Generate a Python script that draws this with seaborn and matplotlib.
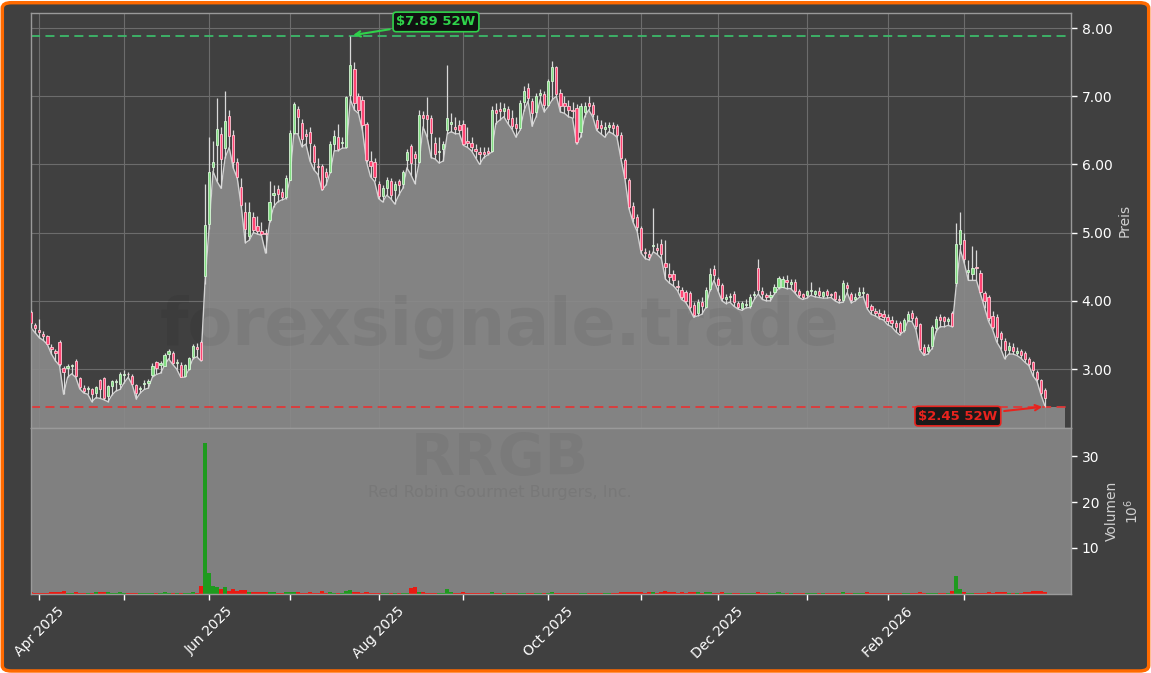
import numpy as np
import pandas as pd
import seaborn as sns
import matplotlib.pyplot as plt
import matplotlib.ticker as mticker
from matplotlib.patches import FancyBboxPatch

# trading days 2025-03-28 .. 2026-03-30 (NYSE holidays removed)
holidays = ['2025-04-18', '2025-05-26', '2025-06-19', '2025-07-04', '2025-09-01',
            '2025-11-27', '2025-12-25', '2026-01-01', '2026-01-19', '2026-02-16']
dates = pd.bdate_range('2025-03-28', '2026-03-30')
dates = dates[~dates.isin(pd.to_datetime(holidays))]

opens = [
    3.84, 3.64,
    3.57, 3.52, 3.48, 3.33, 3.27, 3.40, 3.01, 3.02, 3.05, 3.12, 2.87, 2.72, 2.70, 2.70, 2.65, 2.84, 2.87, 2.61, 2.75, 2.81, 2.78,
    2.91, 2.93, 2.90, 2.76, 2.70, 2.78, 2.80, 2.91, 3.10, 3.06, 3.04, 3.22, 3.24, 3.09, 3.06, 2.90, 3.00, 3.18, 3.32, 3.40, 4.37,
    5.13, 5.96, 6.29, 6.45, 6.24, 6.71, 6.43, 6.04, 5.67, 5.30, 4.95, 5.23, 5.10, 5.02, 5.00, 5.18, 5.55, 5.64, 5.59, 5.53,
    5.77, 6.46, 6.82, 6.61, 6.45, 6.48, 6.27, 5.97, 5.97, 5.89, 5.89, 6.30, 6.40, 6.32, 6.26, 7.02, 7.40, 7.00, 6.94, 6.59, 6.05, 6.04,
    5.71, 5.54, 5.65, 5.76, 5.62, 5.75, 5.71, 6.06, 6.27, 6.16, 6.04, 6.73, 6.72, 6.68, 6.32, 6.18, 6.23, 6.51, 6.60, 6.55, 6.58,
    6.60, 6.35, 6.32, 6.22, 6.18, 6.18, 6.20, 6.19, 6.80, 6.82, 6.78, 6.81, 6.68, 6.60, 6.53, 6.91, 7.12, 6.93, 6.77, 7.02, 7.04,
    6.87, 7.23, 7.43, 7.05, 6.90, 6.85, 6.80, 6.83, 6.48, 6.77, 6.90, 6.87, 6.65, 6.58, 6.52, 6.55, 6.58, 6.57, 6.43, 6.07, 5.77, 5.39, 5.23,
    5.07, 4.72, 4.68, 4.80, 4.78, 4.84, 4.55, 4.40, 4.40, 4.22, 4.16, 4.13, 4.11, 3.94, 3.82, 3.99, 3.91, 4.18, 4.46,
    4.32, 4.23, 4.03, 4.05, 4.10, 3.97, 3.90, 3.94, 3.93, 4.08, 4.48, 4.15, 4.08, 4.05, 4.13, 4.20, 4.21, 4.30, 4.25, 4.28, 4.14, 4.10,
    4.08, 4.14, 4.10, 4.15, 4.07, 4.14, 4.10, 4.13, 4.02, 4.01, 4.23, 4.10, 4.03, 4.08, 4.12, 4.10, 3.92, 3.85, 3.82, 3.80,
    3.76, 3.72, 3.68, 3.67, 3.57, 3.72, 3.82, 3.75, 3.66, 3.33, 3.26, 3.34, 3.60, 3.76, 3.76, 3.70, 3.82, 4.26, 4.84,
    4.89, 4.42, 4.40, 4.50, 4.41, 4.12, 4.06, 3.78, 3.77, 3.53, 3.41, 3.28, 3.33, 3.24, 3.26, 3.23, 3.14, 3.11, 2.96, 2.84, 2.69,
]
highs = [
    3.86, 3.68,
    3.73, 3.56, 3.50, 3.36, 3.30, 3.42, 3.05, 3.08, 3.08, 3.15, 2.88, 2.76, 2.75, 2.72, 2.75, 2.86, 2.88, 2.77, 2.84, 2.85, 2.95,
    2.99, 2.96, 2.92, 2.78, 2.75, 2.84, 2.86, 3.09, 3.12, 3.12, 3.24, 3.30, 3.27, 3.14, 3.10, 3.08, 3.18, 3.36, 3.38, 3.42, 5.72,
    6.40, 6.35, 6.97, 6.55, 7.07, 6.80, 6.50, 6.10, 5.80, 5.45, 5.45, 5.30, 5.25, 5.15, 5.05, 5.75, 5.70, 5.70, 5.65, 5.85,
    6.50, 6.92, 6.85, 6.66, 6.52, 6.55, 6.30, 6.10, 6.00, 5.95, 6.35, 6.50, 6.60, 6.40, 7.00, 7.89, 7.50, 7.05, 7.00, 6.62, 6.20, 6.10,
    5.75, 5.70, 5.82, 5.80, 5.75, 5.78, 5.92, 6.22, 6.30, 6.20, 6.80, 6.78, 6.99, 6.72, 6.40, 6.40, 6.35, 7.46, 6.75, 6.70, 6.65,
    6.65, 6.55, 6.40, 6.30, 6.25, 6.25, 6.25, 6.85, 6.90, 6.92, 6.90, 6.85, 6.80, 6.70, 6.95, 7.15, 7.20, 6.98, 7.05, 7.10, 7.08,
    7.25, 7.52, 7.45, 7.10, 7.00, 6.95, 6.92, 6.88, 6.90, 6.92, 7.00, 6.92, 6.72, 6.65, 6.62, 6.62, 6.62, 6.60, 6.48, 6.10, 5.80, 5.45, 5.28,
    5.10, 4.78, 4.75, 5.36, 4.85, 4.90, 4.89, 4.55, 4.45, 4.30, 4.20, 4.16, 4.14, 3.98, 4.02, 4.05, 4.20, 4.48, 4.52,
    4.35, 4.26, 4.10, 4.12, 4.14, 4.00, 4.00, 4.02, 4.10, 4.15, 4.61, 4.20, 4.12, 4.14, 4.25, 4.36, 4.36, 4.38, 4.32, 4.32, 4.18, 4.12,
    4.16, 4.28, 4.16, 4.20, 4.15, 4.18, 4.12, 4.15, 4.08, 4.30, 4.27, 4.13, 4.12, 4.20, 4.20, 4.12, 3.95, 3.90, 3.88, 3.86,
    3.80, 3.78, 3.72, 3.70, 3.75, 3.85, 3.86, 3.78, 3.68, 3.36, 3.36, 3.65, 3.78, 3.80, 3.78, 3.76, 3.85, 5.14, 5.30,
    5.00, 4.60, 4.80, 4.75, 4.45, 4.15, 4.08, 3.85, 3.80, 3.56, 3.45, 3.40, 3.38, 3.33, 3.30, 3.27, 3.18, 3.12, 2.98, 2.86, 2.72,
]
lows = [
    3.60, 3.53,
    3.46, 3.42, 3.36, 3.22, 3.12, 3.05, 2.63, 2.88, 2.93, 2.88, 2.71, 2.65, 2.63, 2.52, 2.58, 2.57, 2.55, 2.52, 2.62, 2.68, 2.70,
    2.80, 2.88, 2.77, 2.56, 2.65, 2.70, 2.72, 2.88, 2.92, 2.94, 3.05, 3.15, 3.07, 3.00, 2.88, 2.88, 2.99, 3.15, 3.18, 3.12, 4.25,
    5.05, 5.90, 5.75, 5.65, 6.10, 6.25, 5.95, 5.80, 5.38, 4.85, 4.89, 5.00, 4.98, 4.96, 4.70, 5.15, 5.38, 5.45, 5.48, 5.50,
    5.77, 6.45, 6.45, 6.26, 6.30, 6.05, 5.92, 5.85, 5.62, 5.70, 5.88, 6.20, 6.20, 6.24, 6.24, 6.95, 6.80, 6.75, 6.50, 6.04, 5.82, 5.75,
    5.50, 5.45, 5.55, 5.50, 5.42, 5.55, 5.65, 5.95, 5.85, 5.72, 6.02, 6.55, 6.40, 6.10, 6.08, 6.02, 6.05, 6.45, 6.48, 6.45, 6.45,
    6.28, 6.25, 6.20, 6.10, 6.00, 6.10, 6.14, 6.18, 6.60, 6.65, 6.70, 6.60, 6.52, 6.40, 6.50, 6.79, 6.93, 6.56, 6.70, 6.95, 6.77,
    6.85, 6.95, 7.00, 6.77, 6.75, 6.70, 6.68, 6.30, 6.40, 6.70, 6.80, 6.70, 6.50, 6.45, 6.40, 6.48, 6.45, 6.40, 6.08, 5.78, 5.35, 5.15, 5.02,
    4.70, 4.62, 4.60, 4.72, 4.68, 4.62, 4.32, 4.26, 4.22, 4.15, 4.02, 3.98, 3.88, 3.76, 3.78, 3.80, 3.90, 4.15, 4.30,
    4.15, 4.00, 3.96, 3.98, 3.92, 3.88, 3.86, 3.90, 3.90, 4.02, 4.10, 4.02, 4.00, 4.00, 4.10, 4.18, 4.20, 4.18, 4.18, 4.12, 4.05, 4.02,
    4.04, 4.08, 4.06, 4.05, 4.04, 4.04, 4.05, 4.00, 3.97, 3.98, 4.12, 3.97, 4.00, 4.05, 4.06, 3.88, 3.80, 3.78, 3.74, 3.72,
    3.65, 3.62, 3.55, 3.50, 3.55, 3.70, 3.70, 3.58, 3.28, 3.20, 3.22, 3.30, 3.55, 3.62, 3.62, 3.64, 3.62, 4.22, 4.75,
    4.55, 4.30, 4.30, 4.30, 4.10, 3.90, 3.70, 3.58, 3.40, 3.30, 3.15, 3.22, 3.22, 3.20, 3.16, 3.10, 3.05, 2.90, 2.82, 2.62, 2.45,
]
closes = [
    3.67, 3.60,
    3.55, 3.49, 3.37, 3.30, 3.24, 3.08, 2.95, 3.04, 3.06, 2.90, 2.73, 2.68, 2.72, 2.63, 2.73, 2.70, 2.58, 2.75, 2.82, 2.82, 2.93,
    2.93, 2.92, 2.78, 2.65, 2.72, 2.80, 2.82, 3.05, 3.02, 3.09, 3.21, 3.26, 3.09, 3.10, 2.89, 3.06, 3.16, 3.34, 3.30, 3.13, 5.11,
    5.89, 6.04, 6.52, 6.08, 6.64, 6.42, 6.03, 5.82, 5.40, 5.05, 5.30, 5.04, 5.02, 4.98, 4.98, 5.45, 5.58, 5.57, 5.52, 5.80,
    6.46, 6.89, 6.69, 6.38, 6.41, 6.31, 6.03, 5.96, 5.64, 5.82, 6.30, 6.41, 6.22, 6.33, 6.99, 7.46, 6.90, 6.80, 6.58, 6.06, 5.98, 5.82,
    5.54, 5.65, 5.77, 5.55, 5.71, 5.70, 5.89, 6.18, 6.02, 6.09, 6.73, 6.68, 6.66, 6.46, 6.16, 6.20, 6.30, 6.68, 6.62, 6.52, 6.50,
    6.30, 6.32, 6.25, 6.20, 6.16, 6.15, 6.17, 6.80, 6.75, 6.78, 6.83, 6.66, 6.57, 6.53, 6.90, 7.08, 6.97, 6.75, 7.00, 7.05, 6.87,
    7.22, 7.43, 7.04, 6.85, 6.85, 6.80, 6.78, 6.33, 6.85, 6.85, 6.86, 6.74, 6.54, 6.53, 6.55, 6.58, 6.53, 6.43, 6.10, 5.80, 5.38, 5.21, 5.09,
    4.74, 4.70, 4.64, 4.82, 4.75, 4.69, 4.50, 4.35, 4.30, 4.20, 4.06, 4.00, 3.91, 3.79, 3.99, 3.92, 4.16, 4.40, 4.38,
    4.23, 4.04, 4.05, 4.07, 3.98, 3.91, 3.97, 3.96, 4.06, 4.10, 4.16, 4.10, 4.06, 4.08, 4.21, 4.33, 4.32, 4.27, 4.28, 4.15, 4.09, 4.06,
    4.14, 4.15, 4.14, 4.08, 4.13, 4.08, 4.09, 4.03, 4.01, 4.26, 4.19, 4.01, 4.06, 4.13, 4.12, 3.91, 3.86, 3.82, 3.78, 3.76,
    3.70, 3.68, 3.62, 3.55, 3.72, 3.80, 3.75, 3.63, 3.30, 3.23, 3.33, 3.62, 3.74, 3.72, 3.70, 3.73, 3.63, 4.84, 5.04,
    4.62, 4.45, 4.48, 4.48, 4.13, 4.00, 3.75, 3.62, 3.47, 3.44, 3.28, 3.34, 3.27, 3.27, 3.21, 3.15, 3.08, 2.99, 2.86, 2.65, 2.58,
]
# volume in millions of shares
volumes = [
    0.35, 0.30,
    0.28, 0.25, 0.30, 0.40, 0.35, 0.45, 0.65, 0.30, 0.25, 0.35, 0.30, 0.25, 0.20, 0.30, 0.45, 0.45, 0.50, 0.45, 0.30, 0.25, 0.35,
    0.25, 0.20, 0.25, 0.30, 0.20, 0.20, 0.25, 0.30, 0.25, 0.20, 0.35, 0.30, 0.25, 0.20, 0.30, 0.25, 0.30, 0.35, 0.30, 1.80, 32.90,
    4.50, 1.80, 1.50, 1.00, 1.50, 0.60, 1.00, 0.70, 0.80, 0.80, 0.50, 0.45, 0.40, 0.35, 0.40, 0.50, 0.35, 0.30, 0.30, 0.35,
    0.50, 0.50, 0.35, 0.30, 0.30, 0.35, 0.30, 0.25, 0.55, 0.30, 0.35, 0.30, 0.30, 0.25, 0.60, 0.80, 0.50, 0.35, 0.30, 0.40, 0.30, 0.30,
    0.25, 0.30, 0.25, 0.25, 0.20, 0.25, 0.25, 0.30, 1.40, 1.60, 0.50, 0.35, 0.30, 0.30, 0.25, 0.20, 0.25, 1.00, 0.35, 0.30, 0.30,
    0.35, 0.30, 0.25, 0.25, 0.20, 0.25, 0.20, 0.35, 0.30, 0.25, 0.25, 0.30, 0.25, 0.20, 0.30, 0.30, 0.25, 0.25, 0.30, 0.20, 0.25,
    0.30, 0.35, 0.30, 0.25, 0.20, 0.20, 0.20, 0.30, 0.25, 0.20, 0.20, 0.25, 0.25, 0.20, 0.20, 0.20, 0.20, 0.25, 0.35, 0.40, 0.45, 0.40, 0.35,
    0.40, 0.30, 0.35, 0.40, 0.30, 0.45, 0.60, 0.50, 0.40, 0.30, 0.35, 0.30, 0.35, 0.40, 0.35, 0.30, 0.35, 0.40, 0.30,
    0.30, 0.35, 0.25, 0.25, 0.30, 0.30, 0.25, 0.25, 0.30, 0.25, 0.45, 0.30, 0.25, 0.25, 0.30, 0.35, 0.30, 0.25, 0.20, 0.25, 0.30, 0.25,
    0.25, 0.30, 0.20, 0.25, 0.25, 0.20, 0.20, 0.25, 0.25, 0.35, 0.30, 0.30, 0.20, 0.25, 0.25, 0.45, 0.30, 0.25, 0.25, 0.25,
    0.30, 0.25, 0.25, 0.30, 0.25, 0.25, 0.25, 0.30, 0.40, 0.30, 0.25, 0.30, 0.25, 0.20, 0.20, 0.20, 0.70, 3.90, 1.00,
    0.45, 0.30, 0.30, 0.25, 0.30, 0.30, 0.35, 0.30, 0.45, 0.45, 0.40, 0.30, 0.30, 0.25, 0.30, 0.35, 0.40, 0.60, 0.60, 0.65, 0.50,
]

high_52w = 7.89
low_52w = 2.45
ticker = 'RRGB'
company = 'Red Robin Gourmet Burgers, Inc.'
watermark = 'forexsignale.trade'

df = pd.DataFrame({'date': dates, 'open': opens, 'high': highs, 'low': lows,
                   'close': closes, 'volume': volumes})
df['i'] = np.arange(len(df))
n = len(df)
up = df['close'] >= df['open']

BG = '#404040'
sns.set_theme(style='dark')
plt.rcParams['font.family'] = ['DejaVu Sans']

fig = plt.figure(figsize=(11.51, 6.73), dpi=100)
fig.patch.set_facecolor('white')
frame = FancyBboxPatch((0.002, 0.003), 0.996, 0.993, boxstyle='round,pad=0,rounding_size=0.008',
                       transform=fig.transFigure, facecolor=BG, edgecolor='#ff6a00', linewidth=2.5, zorder=-5)
fig.add_artist(frame)

ax = fig.add_axes([0.0267, 0.364, 0.9041, 0.6166])
axv = fig.add_axes([0.0267, 0.1174, 0.9041, 0.2467], sharex=ax)

# --- price panel ---
ax.set_facecolor(BG)
ax.fill_between(df['i'], df['low'], 0, color='#8b8b8b', alpha=0.9, linewidth=0, zorder=1)
ax.fill_between([n - 1, n + 4], low_52w, 0, color='#8b8b8b', alpha=0.9, linewidth=0, zorder=1)
sns.lineplot(x=df['i'], y=df['low'], ax=ax, color='#d2d2d2', linewidth=1.0, zorder=2)

ax.text(500 / 1151, 1 - 327 / 673, watermark, transform=fig.transFigure, ha='center', va='center',
        fontsize=47, fontweight='bold', color='black', alpha=0.055, zorder=1.5)

ax.vlines(df['i'], df['low'], df['high'], color='#d9d9d9', linewidth=0.9, zorder=3)
body = (df['close'] - df['open']).abs().clip(lower=0.012)
bottom = df[['open', 'close']].min(axis=1)
ax.bar(df['i'][up], body[up], bottom=bottom[up], width=0.55, color='#82dd82',
       edgecolor='#d6f6d6', linewidth=0.6, zorder=4)
ax.bar(df['i'][~up], body[~up], bottom=bottom[~up], width=0.55, color='#ff4473',
       edgecolor='#ffc8d4', linewidth=0.6, zorder=4)

ax.axhline(high_52w, color='#3cb96a', linestyle=(0, (5, 3)), linewidth=1.3, zorder=2.5)
ax.axhline(low_52w, color='#e03838', linestyle=(0, (5, 3)), linewidth=1.3, zorder=2.5)

i_hi = int(df['high'].idxmax())
i_lo = int(df['low'].idxmin())
ax.annotate(f'${high_52w:.2f} 52W', xy=(i_hi, high_52w), xytext=(100.2, 8.09),
            ha='center', va='center', fontsize=9.5, fontweight='bold', color='#2fd34a',
            bbox=dict(boxstyle='round,pad=0.25', fc='#111111', ec='#2fd34a', lw=1.2),
            arrowprops=dict(arrowstyle='->', color='#2fd34a', lw=1.5), zorder=6)
ax.annotate(f'${low_52w:.2f} 52W', xy=(i_lo, low_52w), xytext=(229.4, 2.31),
            ha='center', va='center', fontsize=9.5, fontweight='bold', color='#e8231e',
            bbox=dict(boxstyle='round,pad=0.25', fc='#1a1a1a', ec='#e8231e', lw=1.2),
            arrowprops=dict(arrowstyle='->', color='#e8231e', lw=1.5), zorder=6)

ax.set_xlim(-0.13, n + 5.5)
ax.set_ylim(2.135, 8.22)
ax.yaxis.tick_right()
ax.yaxis.set_label_position('right')
ax.yaxis.set_major_locator(mticker.MultipleLocator(1.0))
ax.yaxis.set_major_formatter(mticker.FormatStrFormatter('%.2f'))
ax.set_ylabel('Preis', color='#d0d0d0', fontsize=10)
ax.set_xlabel('')
ax.tick_params(axis='y', colors='white', labelsize=10, length=4, width=1, right=True, left=False)
ax.tick_params(axis='x', labelbottom=False, bottom=False, length=0)
for s in ax.spines.values():
    s.set_color('#9a9a9a')
    s.set_linewidth(1)

# --- volume panel ---
axv.set_facecolor('#808080')
vol_colors = np.where(up, '#1e9a1e', '#ea1a12')
axv.bar(df['i'], df['volume'], width=1.0, color=vol_colors, linewidth=0, zorder=2)
axv.text(500 / 1151, 1 - 459 / 673, ticker, transform=fig.transFigure, ha='center', va='center',
         fontsize=41, fontweight='bold', color='black', alpha=0.045, zorder=1)
axv.text(500 / 1151, 1 - 492 / 673, company, transform=fig.transFigure, ha='center', va='center',
         fontsize=11.5, color='black', alpha=0.06, zorder=1)
axv.set_ylim(0, 36.1)
axv.set_yticks([10, 20, 30])
axv.yaxis.tick_right()
axv.yaxis.set_label_position('right')
axv.set_ylabel('Volumen\n$10^6$', color='#d0d0d0', fontsize=10)
axv.grid(False)

starts = [i for i in range(1, n) if dates[i].month != dates[i - 1].month]
labels = [dates[i].strftime('%b %Y') if dates[i].month % 2 == 0 else '' for i in starts]
axv.set_xticks(starts)
axv.set_xticklabels(labels, rotation=45, ha='center')
axv.tick_params(axis='x', colors='white', labelsize=10, length=4, width=1, bottom=True)
axv.tick_params(axis='y', colors='white', labelsize=10, length=4, width=1, right=True, left=False)
for s in axv.spines.values():
    s.set_color('#9a9a9a')
    s.set_linewidth(1)

ax.set_xticks(starts)
ax.grid(True, axis='both', color='#6c6c6c', linewidth=0.8)

fig.savefig('out.png', dpi=100, facecolor=fig.get_facecolor())
